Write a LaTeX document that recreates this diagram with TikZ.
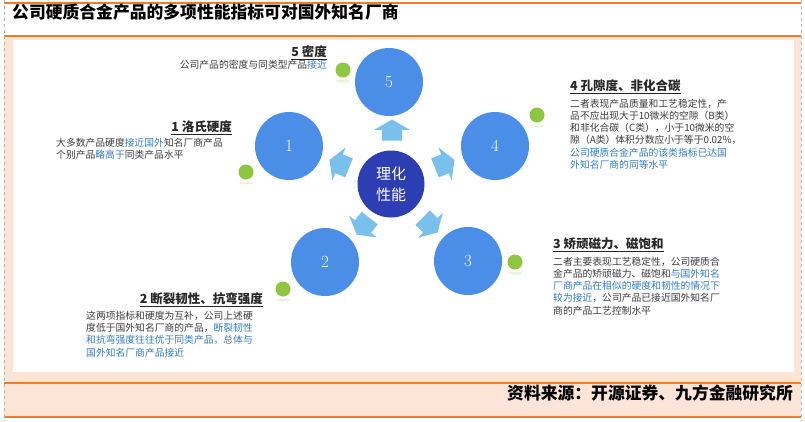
\documentclass[tikz,border=0pt]{standalone}
\usepackage{fontspec}
\newfontfamily\cjkfont{Noto Sans CJK SC}
\usetikzlibrary{shapes.arrows}
\definecolor{circblue}{RGB}{74,142,232}
\definecolor{midblue}{RGB}{44,62,178}
\definecolor{arrowblue}{RGB}{122,192,236}
\definecolor{dotgreen}{RGB}{141,198,63}
\definecolor{peach}{RGB}{252,228,214}
\definecolor{frameorange}{RGB}{240,125,40}
\definecolor{hlblue}{RGB}{52,125,200}
\definecolor{bodygray}{RGB}{60,60,60}
\newcommand{\bluetxt}[1]{\textcolor{hlblue}{#1}}

\begin{document}
\begin{tikzpicture}[x=1pt,y=-1pt,
    num node/.style={circle,fill=circblue,minimum size=68pt,inner sep=0pt,text=white,font=\fontsize{17}{17}\selectfont},
    mid node/.style={circle,fill=midblue,minimum size=67pt,inner sep=0pt,text=white,align=center,font=\cjkfont\fontsize{15}{21}\selectfont},
    flow arrow/.style={single arrow,fill=arrowblue,minimum height=21pt,single arrow head extend=7.5pt,single arrow tip angle=120,inner sep=0pt},
    green dot/.style={circle,fill=dotgreen,minimum size=15pt,inner sep=0pt},
    head text/.style={inner sep=0pt,text=black!85,font=\cjkfont\bfseries\fontsize{12.5}{14}\selectfont},
    body text/.style={inner sep=0pt,align=left,text=bodygray,font=\cjkfont\fontsize{9.8}{12.2}\selectfont},
    big text/.style={inner sep=0pt,text=black,font=\cjkfont\bfseries\fontsize{16.8}{18}\selectfont},
    orange rule/.style={draw=frameorange,line width=1.5pt},
    side rule/.style={draw=black!30,dashed,line width=0.8pt}]
    \useasboundingbox (0,0) rectangle (805,421);

    % frame
    \fill[peach] (4,37) rectangle (801,417);
    \fill[white] (13,40) rectangle (794,372);
    \foreach \y in {3,36,383,417}
        \draw[orange rule] (4,\y) -- (801,\y);
    \draw[side rule] (4,0) -- (4,421);
    \draw[side rule] (801,0) -- (801,421);

    \node[big text,anchor=west] (title) at (12,12) {公司硬质合金产品的多项性能指标可对国外知名厂商};
    \node[big text,anchor=east] (source) at (793,393) {资料来源：开源证券、九方金融研究所};

    % circles
    \node[mid node] (ctr) at (391,184) {理化\\性能};
    \node[num node] (c5) at (389,82) {5};
    \node[num node] (c1) at (289,146) {1};
    \node[num node] (c4) at (495,146) {4};
    \node[num node] (c2) at (325,262) {2};
    \node[num node] (c3) at (468,261) {3};

    \foreach \x/\y/\a [count=\i] in {392/133/90,342/165/158,442/165/22,365/224/232,428/223/315}
        \node[flow arrow,rotate=\a] (a\i) at (\x,\y) {\rule{0pt}{20pt}};

    \foreach \x/\y [count=\i] in {343/70,246/172,537/115,515/262,283/289}{
        \node[green dot] (g\i) at (\x,\y) {};
        \fill[dotgreen,opacity=.18] (\x,\y+11) ellipse [x radius=7,y radius=1.5];
    }

    % texts
    \node[head text,anchor=east] (h5) at (327,53) {\underline{5\ 密度}};
    \node[body text,anchor=east] (t5) at (327,65) {公司产品的密度与同类型产品\bluetxt{接近}};

    \node[head text,anchor=east] (h1) at (232,128) {\underline{1\ 洛氏硬度}};
    \node[body text,anchor=west] (t1) at (56,149) {大多数产品硬度\bluetxt{接近国外}知名厂商产品\\个别产品\bluetxt{略高于}同类产品水平};

    \node[head text,anchor=west] (h4) at (570,87) {\underline{4\ 孔隙度、非化合碳}};
    \node[body text,anchor=west] (t4) at (570,134) {二者表现产品质量和工艺稳定性，产\\品不应出现大于10微米的空隙（B类）\\和非化合碳（C类），小于10微米的空\\隙（A类）体积分数应小于等于0.02\%，\\\bluetxt{公司硬质合金产品的该类指标已达国}\\\bluetxt{外知名厂商的同等水平}};

    \node[head text,anchor=west] (h3) at (553,245) {\underline{3\ 矫顽磁力、磁饱和}};
    \node[body text,anchor=west] (t3) at (553,286) {二者主要表现工艺稳定性，公司硬质合\\金产品的矫顽磁力、磁饱和\bluetxt{与国外知名}\\\bluetxt{厂商产品在相似的硬度和韧性的情况下}\\\bluetxt{较为接近}，公司产品已接近国外知名厂\\商的产品工艺控制水平};

    \node[head text,anchor=east] (h2) at (263,300) {\underline{2\ 断裂韧性、抗弯强度}};
    \node[body text,anchor=west] (t2) at (86,334) {这两项指标和硬度为互补，公司上述硬\\度低于国外知名厂商的产品，\bluetxt{断裂韧性}\\\bluetxt{和抗弯强度往往优于同类产品，总体与}\\\bluetxt{国外知名厂商产品接近}};
\end{tikzpicture}
\end{document}
